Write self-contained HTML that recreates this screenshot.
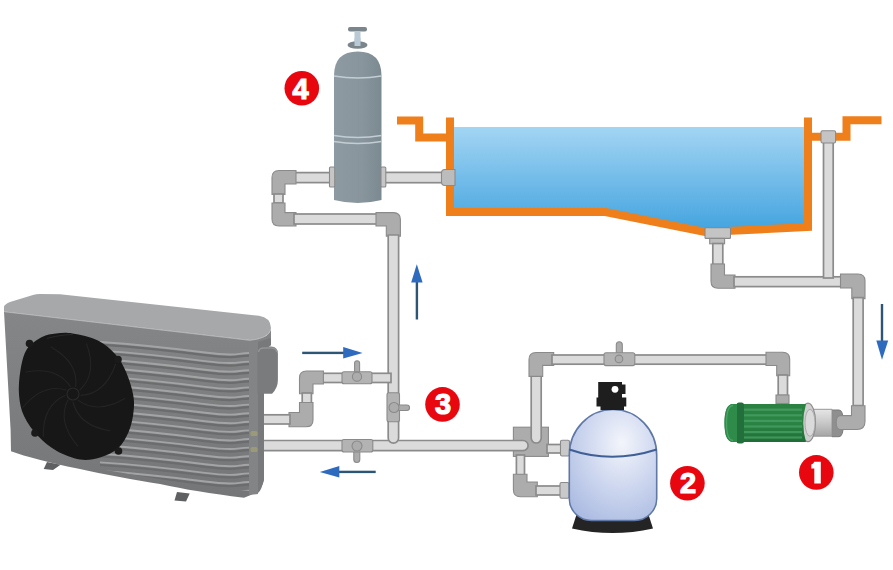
<!DOCTYPE html>
<html><head><meta charset="utf-8">
<style>
html,body{margin:0;padding:0;background:#fff;width:893px;height:570px;overflow:hidden}
svg{display:block}
.p{fill:#dbdbdb;stroke:#8b8b8b;stroke-width:1.7}
.e{fill:#acacac;stroke:#8a8a8a;stroke-width:1.1}
.hl{stroke:#ededed;stroke-width:2.5;fill:none}
.or{fill:none;stroke:#ef7f1a;stroke-width:8;stroke-linejoin:miter}
.num{font-family:"Liberation Sans",sans-serif;font-weight:bold;fill:#fff;stroke:#fff;stroke-width:1.2;font-size:29px;text-anchor:middle}
</style></head>
<body>
<svg width="893" height="570" viewBox="0 0 893 570">
<defs>
<linearGradient id="water" x1="0" y1="0" x2="0" y2="1">
<stop offset="0" stop-color="#a3d5f3"/><stop offset="1" stop-color="#42a3df"/>
</linearGradient>
<linearGradient id="tank4" x1="0" y1="0" x2="1" y2="0">
<stop offset="0" stop-color="#8d9aa1"/><stop offset="0.6" stop-color="#88959c"/><stop offset="1" stop-color="#7b8990"/>
</linearGradient>
<radialGradient id="filt" cx="0.6" cy="0.3" r="0.85">
<stop offset="0" stop-color="#f3f5fb"/><stop offset="0.45" stop-color="#d0d9f0"/><stop offset="1" stop-color="#a7b8e0"/>
</radialGradient>
<linearGradient id="green" x1="0" y1="0" x2="0" y2="1">
<stop offset="0" stop-color="#2a8142"/><stop offset="0.5" stop-color="#2a8443"/><stop offset="1" stop-color="#1f6d36"/>
</linearGradient>
<linearGradient id="motor" x1="0" y1="0" x2="0" y2="1">
<stop offset="0" stop-color="#e6e6e6"/><stop offset="0.5" stop-color="#c8c8c8"/><stop offset="1" stop-color="#a5a5a5"/>
</linearGradient>
<linearGradient id="hpface" x1="0" y1="0" x2="0" y2="1">
<stop offset="0" stop-color="#858687"/><stop offset="1" stop-color="#757678"/>
</linearGradient>
</defs>

<!-- ============ POOL ============ -->
<path d="M452,127 H806 V227 L705,232 L605.5,212 H452 Z" fill="url(#water)"/>
<path class="or" d="M450,117.5 V212 H605.5 L705,232 L808,227 V117.5"/>
<path class="or" d="M397,120.6 H419.2 V137.6 H450"/>
<path class="or" d="M808,136.8 H846.5 V120.3 H881.5"/>

<!-- ============ TANK 4 ============ -->
<rect x="348" y="27" width="19" height="4.5" rx="2" fill="#7a868c"/>
<rect x="354.5" y="31" width="6" height="14" fill="#b9cad6"/>
<ellipse cx="357.5" cy="45" rx="10" ry="3.8" fill="#7a868c"/>
<rect x="354.5" y="38" width="6" height="8" fill="#b9cad6"/>
<path d="M334,76 Q334,51.6 357.8,51.6 Q381.5,51.6 381.5,76 V200 Q357.8,206 334,200 Z" fill="url(#tank4)"/>
<path d="M334,76 Q357.8,80 381.5,76" stroke="#c3ced4" stroke-width="1.3" fill="none"/>
<path d="M334,135.5 Q357.8,139.5 381.5,135.5" stroke="#c3ced4" stroke-width="1.3" fill="none"/>
<path d="M334,141.5 Q357.8,145.5 381.5,141.5" stroke="#c3ced4" stroke-width="1.3" fill="none"/>

<!-- top-left circuit pipes -->
<rect class="p" x="294" y="172.6" width="37" height="10"/>
<rect class="p" x="384" y="172.4" width="59" height="10.3"/>
<rect class="e" x="329.5" y="167" width="5.2" height="20" rx="1" style="fill:#c6c6c6"/>
<rect class="e" x="381" y="167" width="4.8" height="20" rx="1" style="fill:#c6c6c6"/>
<path class="e" d="M455,169.5 H445 Q441.5,169.5 441.5,173 V182 Q441.5,185.5 445,185.5 H455 Z" style="fill:#bcbcbc"/>
<path class="e" d="M296,170.5 H279 Q272,170.5 272,177.5 V194.4 H285 V184 H296 Z"/>
<rect class="p" x="274" y="194" width="9" height="9"/>
<path class="e" d="M272,203 H285 V212.6 H296 V226 H279 Q272,226 272,219 Z"/>
<rect class="p" x="294" y="214" width="84" height="10"/>
<path class="e" d="M376,212.6 H393.4 Q400.4,212.6 400.4,219.6 V236.3 H386.3 V226 H376 Z"/>

<rect class="e" x="513.4" y="427.2" width="35" height="29.2"/>
<path class="p" d="M262,440.5 H523 A5.1,5.1 0 0 1 523,450.7 H262 Z"/>
<path class="p" d="M388.2,235 H398.6 V438 A5.2,5.2 0 0 1 388.2,438 Z"/>
<!-- valve on vertical pipe -->
<rect class="e" x="387" y="392.7" width="12.5" height="29" rx="2" style="fill:#b3b3b3"/>
<rect class="e" x="393" y="405" width="16.5" height="5.5" rx="2.7"/>
<circle class="e" cx="394" cy="407.5" r="5"/>

<!-- HP upper pipe + valve -->
<rect class="p" x="321" y="373.3" width="70" height="9.2"/>
<rect class="e" x="354.6" y="360.8" width="5" height="14" rx="2.5"/>
<rect class="e" x="342" y="371.7" width="30" height="12" rx="2" style="fill:#b3b3b3"/>
<circle class="e" cx="357" cy="376.7" r="4.6"/>
<path class="e" d="M323.4,371 H306.5 Q299.5,371 299.5,378 V393.8 H313 V384 H323.4 Z"/>
<rect class="p" x="302.2" y="393" width="9.2" height="10"/>
<path class="e" d="M299.5,402.5 H313 V420 Q313,426.8 306,426.8 H289 V412.5 H299.5 Z"/>
<rect class="p" x="262" y="414.8" width="28" height="9.2"/>

<!-- lower long pipe + valve -->
<rect class="e" x="353.8" y="444" width="6" height="18.5" rx="3"/>
<rect class="e" x="342" y="439.5" width="30.8" height="12.5" rx="2" style="fill:#b3b3b3"/>
<circle class="e" cx="357" cy="446" r="5"/>

<!-- filter connections -->
<path class="p" d="M531.2,376 H541.2 V438 A5,5 0 0 1 531.2,438 Z"/>
<path class="e" d="M553.7,352.5 H536 Q529,352.5 529,359.5 V376.4 H542.7 V365.4 H553.7 Z"/>
<rect class="p" x="552" y="355" width="216" height="9.2"/>
<rect class="e" x="616.3" y="341.8" width="6" height="14" rx="3"/>
<rect class="e" x="604" y="352.8" width="30.8" height="12.8" rx="2" style="fill:#b3b3b3"/>
<circle class="e" cx="619" cy="358.9" r="3.8"/>
<path class="e" d="M766,352.3 H782.7 Q789.7,352.3 789.7,359.3 V375.8 H776.7 V365.5 H766 Z"/>
<rect class="p" x="778.2" y="375" width="9.3" height="20.5"/>
<rect class="e" x="776" y="395" width="13" height="8.5"/>
<rect class="p" x="547" y="444.5" width="15" height="8.5"/>
<rect class="e" x="560.5" y="440.2" width="9" height="15.8" rx="1.5" style="fill:#c9c9c9"/>
<rect class="p" x="516.4" y="455" width="8.1" height="20"/>
<path class="e" d="M513.4,474.3 H527 V482 H537.3 V496.7 H520.4 Q513.4,496.7 513.4,489.7 Z"/>
<rect class="p" x="536" y="486" width="25" height="9"/>
<rect class="e" x="560" y="482.5" width="9" height="15.8" rx="1.5" style="fill:#c9c9c9"/>

<!-- right circuit -->
<rect class="e" x="705" y="227.6" width="25.5" height="10.8" rx="1" style="fill:#c4c4c4"/>
<rect class="e" x="709.7" y="238.4" width="14.9" height="5.4" style="fill:#bdbdbd"/>
<rect class="p" x="712.8" y="243.5" width="10" height="21"/>
<path class="e" d="M711,264 H724.5 V275 H735 V288.2 H718 Q711,288.2 711,281.2 Z"/>
<rect class="p" x="734" y="276.8" width="107.5" height="9.8"/>
<rect class="p" x="823.5" y="142" width="9.7" height="136"/>
<rect class="e" x="821" y="130.7" width="14.6" height="12.3" rx="1.5" style="fill:#c4c4c4"/>
<path class="e" d="M840.5,274 H858 Q865,274 865,281 V298.6 H851.8 V288 H840.5 Z"/>
<rect class="p" x="853.2" y="297.6" width="9.9" height="108"/>


<!-- ============ PUMP 1 ============ -->
<path d="M832,410 H839 Q843.4,410 843.4,423.3 Q843.4,436.7 839,436.7 H832 Z" fill="#8f8f8f" stroke="#7a7a7a" stroke-width="1"/>
<path class="e" d="M851.5,405.8 H865 V421.5 Q865,429.5 857,429.5 H840 Q836.2,429.5 836.2,422.5 Q836.2,415.6 840,415.6 H851.5 Z"/>
<path d="M808,409.3 H832 V436.2 H808 Z" fill="url(#motor)" stroke="#969696" stroke-width="1"/>
<ellipse cx="808" cy="422.4" rx="7.5" ry="19.3" fill="#cfcfcf" stroke="#8e8e8e" stroke-width="1.2"/>
<ellipse cx="810" cy="422.8" rx="5" ry="13.5" fill="#dadada" stroke="#a0a0a0" stroke-width="0.8"/>
<path d="M733,404 H806 Q800.5,423 806,442 H733 Q724.5,442 724.5,423 Q724.5,404 733,404 Z" fill="url(#green)"/>
<rect x="744" y="408.6" width="58" height="2.2" fill="#4aa266" opacity="0.75"/>
<rect x="744" y="414.2" width="58" height="2.2" fill="#4aa266" opacity="0.75"/>
<rect x="744" y="419.8" width="58" height="2.2" fill="#4aa266" opacity="0.75"/>
<rect x="744" y="425.4" width="58" height="2.2" fill="#4aa266" opacity="0.75"/>
<rect x="744" y="431.0" width="58" height="2.2" fill="#4aa266" opacity="0.75"/>
<rect x="744" y="436.4" width="58" height="2.2" fill="#4aa266" opacity="0.75"/>
<rect x="736.5" y="402.5" width="7.5" height="41" rx="2.5" fill="#236f3b"/>
<path d="M737,404 H733 Q724.5,404 724.5,423 Q724.5,442 733,442 H737 Z" fill="#2f8b4a"/>
<path d="M733,405.5 Q726.5,406 726.5,423 Q726.5,440 733,440.5" fill="none" stroke="#49a566" stroke-width="1.3"/>

<!-- ============ FILTER 2 ============ -->
<path d="M578,510 H647 L653,528.5 Q612.5,537.5 572,528.5 Z" fill="#242424"/>
<path d="M569.3,455 A43.7,45.5 0 0 1 656.7,455 V498.5 A22,22 0 0 1 634.7,520.5 H591.3 A22,22 0 0 1 569.3,498.5 Z" fill="url(#filt)" stroke="#5f78a6" stroke-width="1.6"/>
<path d="M569.3,449.5 Q611.4,464 656.7,449.5" stroke="#3f6096" stroke-width="2" fill="none"/>
<path d="M598.2,382 H622 V384.5 H625.5 V394 H622 V397.5 H626.3 V406.5 H624 V410 H600.5 V406.5 H596.5 V397.5 H598.2 Z" fill="#1e1e1e"/>
<circle cx="615" cy="389.3" r="3.4" fill="#fff"/>

<!-- ============ HEAT PUMP ============ -->
<g id="hp">
<clipPath id="grill"><path d="M100,337 L249,347.5 L249,491 C200,486 150,478 100,469 Z"/></clipPath>
<path d="M4,311.5 L250,340 Q271,338 271,328 L271,345 L264,350 L264,480 Q262,492 244,497.8 C210,493.5 185,489.5 160,484 C110,476 40,462 11,451.3 L10.6,430 Z" fill="url(#hpface)"/>
<g clip-path="url(#grill)" fill="none">
<path d="M100,344.6 C130,346.6 170,350.6 205,355.1 S235,355.6 249,355.6" stroke="#6b6c6d" stroke-width="2.2"/>
<path d="M100,342.0 C130,344.0 170,348.0 205,352.5 S235,353.0 249,353.0" stroke="#a3a4a5" stroke-width="1.9"/>
<path d="M100,353.2 C130,355.2 170,359.2 205,363.7 S235,364.2 249,364.2" stroke="#6b6c6d" stroke-width="2.2"/>
<path d="M100,350.6 C130,352.6 170,356.6 205,361.1 S235,361.6 249,361.6" stroke="#a3a4a5" stroke-width="1.9"/>
<path d="M100,361.8 C130,363.8 170,367.8 205,372.3 S235,372.8 249,372.8" stroke="#6b6c6d" stroke-width="2.2"/>
<path d="M100,359.2 C130,361.2 170,365.2 205,369.7 S235,370.2 249,370.2" stroke="#a3a4a5" stroke-width="1.9"/>
<path d="M100,370.4 C130,372.4 170,376.4 205,380.9 S235,381.4 249,381.4" stroke="#6b6c6d" stroke-width="2.2"/>
<path d="M100,367.8 C130,369.8 170,373.8 205,378.3 S235,378.8 249,378.8" stroke="#a3a4a5" stroke-width="1.9"/>
<path d="M100,379.0 C130,381.0 170,385.0 205,389.5 S235,390.0 249,390.0" stroke="#6b6c6d" stroke-width="2.2"/>
<path d="M100,376.4 C130,378.4 170,382.4 205,386.9 S235,387.4 249,387.4" stroke="#a3a4a5" stroke-width="1.9"/>
<path d="M100,387.6 C130,389.6 170,393.6 205,398.1 S235,398.6 249,398.6" stroke="#6b6c6d" stroke-width="2.2"/>
<path d="M100,385.0 C130,387.0 170,391.0 205,395.5 S235,396.0 249,396.0" stroke="#a3a4a5" stroke-width="1.9"/>
<path d="M100,396.2 C130,398.2 170,402.2 205,406.7 S235,407.2 249,407.2" stroke="#6b6c6d" stroke-width="2.2"/>
<path d="M100,393.6 C130,395.6 170,399.6 205,404.1 S235,404.6 249,404.6" stroke="#a3a4a5" stroke-width="1.9"/>
<path d="M100,404.8 C130,406.8 170,410.8 205,415.3 S235,415.8 249,415.8" stroke="#6b6c6d" stroke-width="2.2"/>
<path d="M100,402.2 C130,404.2 170,408.2 205,412.7 S235,413.2 249,413.2" stroke="#a3a4a5" stroke-width="1.9"/>
<path d="M100,413.4 C130,415.4 170,419.4 205,423.9 S235,424.4 249,424.4" stroke="#6b6c6d" stroke-width="2.2"/>
<path d="M100,410.8 C130,412.8 170,416.8 205,421.3 S235,421.8 249,421.8" stroke="#a3a4a5" stroke-width="1.9"/>
<path d="M100,422.0 C130,424.0 170,428.0 205,432.5 S235,433.0 249,433.0" stroke="#6b6c6d" stroke-width="2.2"/>
<path d="M100,419.4 C130,421.4 170,425.4 205,429.9 S235,430.4 249,430.4" stroke="#a3a4a5" stroke-width="1.9"/>
<path d="M100,430.6 C130,432.6 170,436.6 205,441.1 S235,441.6 249,441.6" stroke="#6b6c6d" stroke-width="2.2"/>
<path d="M100,428.0 C130,430.0 170,434.0 205,438.5 S235,439.0 249,439.0" stroke="#a3a4a5" stroke-width="1.9"/>
<path d="M100,439.2 C130,441.2 170,445.2 205,449.7 S235,450.2 249,450.2" stroke="#6b6c6d" stroke-width="2.2"/>
<path d="M100,436.6 C130,438.6 170,442.6 205,447.1 S235,447.6 249,447.6" stroke="#a3a4a5" stroke-width="1.9"/>
<path d="M100,447.8 C130,449.8 170,453.8 205,458.3 S235,458.8 249,458.8" stroke="#6b6c6d" stroke-width="2.2"/>
<path d="M100,445.2 C130,447.2 170,451.2 205,455.7 S235,456.2 249,456.2" stroke="#a3a4a5" stroke-width="1.9"/>
<path d="M100,456.4 C130,458.4 170,462.4 205,466.9 S235,467.4 249,467.4" stroke="#6b6c6d" stroke-width="2.2"/>
<path d="M100,453.8 C130,455.8 170,459.8 205,464.3 S235,464.8 249,464.8" stroke="#a3a4a5" stroke-width="1.9"/>
<path d="M100,465.0 C130,467.0 170,471.0 205,475.5 S235,476.0 249,476.0" stroke="#6b6c6d" stroke-width="2.2"/>
<path d="M100,462.4 C130,464.4 170,468.4 205,472.9 S235,473.4 249,473.4" stroke="#a3a4a5" stroke-width="1.9"/>
<path d="M100,473.6 C130,475.6 170,479.6 205,484.1 S235,484.6 249,484.6" stroke="#6b6c6d" stroke-width="2.2"/>
<path d="M100,471.0 C130,473.0 170,477.0 205,481.5 S235,482.0 249,482.0" stroke="#a3a4a5" stroke-width="1.9"/>
<path d="M100,482.2 C130,484.2 170,488.2 205,492.7 S235,493.2 249,493.2" stroke="#6b6c6d" stroke-width="2.2"/>
<path d="M100,479.6 C130,481.6 170,485.6 205,490.1 S235,490.6 249,490.6" stroke="#a3a4a5" stroke-width="1.9"/>
</g>
<path d="M4,311.5 L4,306.5 Q5,304 10,302 L33,295 Q36,294 40,294 L60,294.2 L259,315.8 Q270.5,317.5 271,328 Q270,338 250,340 Z" fill="#a6a8aa"/>
<path d="M5,311.8 L250,340.3 Q268,338.5 270.5,330" fill="none" stroke="#b4b6b7" stroke-width="1"/>
<path d="M249,341 L258,342 L258,494 L249,495 Z" fill="#838485"/>
<path d="M258,342 L271,338 L271,345 L264,350 L264,478 Q262,490 258,493 Z" fill="#78797a"/>
<path d="M257.4,354 Q257.4,346.5 264,346.5 H271 Q277.9,346.5 277.9,354 V380 Q277.9,388 272,393.8 H257.4 Z" fill="#7a7b7c"/>
<path d="M258.5,352 Q259,348 264,348 H271 Q276.5,348 276.8,352" fill="none" stroke="#939495" stroke-width="1.6"/>
<path d="M72.6,333.5 C79.6,334.7 90.7,336.9 97.9,340.5 C105.1,344.1 111.3,349.6 116.0,355.0 C120.7,360.4 123.4,365.9 126.3,372.6 C129.2,379.3 132.0,388.4 133.2,395.0 C134.4,401.6 134.2,406.0 133.5,412.0 C132.8,418.0 131.5,425.0 129.0,431.0 C126.5,437.0 123.2,443.6 118.4,448.0 C113.6,452.4 106.4,455.6 100.0,457.5 C93.6,459.4 87.2,460.6 80.0,459.5 C72.8,458.4 63.8,454.9 56.8,451.0 C49.8,447.1 43.5,441.8 38.0,436.0 C32.5,430.2 27.2,422.9 24.0,416.0 C20.8,409.1 19.6,402.4 19.0,394.7 C18.4,387.0 19.2,377.6 20.5,370.0 C21.8,362.4 23.4,354.5 27.0,349.0 C30.6,343.5 37.2,339.6 42.0,337.0 C46.8,334.4 50.9,334.1 56.0,333.5 C61.1,332.9 65.6,332.3 72.6,333.5 Z" fill="#171717"/>
<g fill="none" stroke="#242424" stroke-width="1.1" stroke-linecap="round">
<path d="M80.9,395.4 Q105.0,394.0 115.6,364.2"/>
<path d="M78.1,400.1 Q97.5,414.6 124.8,398.5"/>
<path d="M73.0,402.0 Q78.6,425.5 109.8,430.8"/>
<path d="M67.9,400.1 Q57.0,421.7 77.5,445.8"/>
<path d="M65.1,395.4 Q42.9,404.9 43.2,436.6"/>
<path d="M66.1,390.0 Q42.9,383.1 22.8,407.5"/>
<path d="M70.3,386.5 Q57.0,366.3 25.9,372.0"/>
<path d="M75.7,386.5 Q78.6,362.5 51.0,346.9"/>
<path d="M79.9,390.0 Q97.5,373.4 86.5,343.8"/>
<circle cx="73" cy="394" r="6" stroke="#2a2a2a"/>
</g>
<path d="M47,338.5 C53.5,336.5 63,334.8 72.6,334.5" fill="none" stroke="#2a2a2a" stroke-width="1"/>
<circle cx="29.5" cy="343.5" r="3.8" fill="#1a1a1a"/>
<circle cx="118" cy="359.5" r="3.8" fill="#1a1a1a"/>
<circle cx="35" cy="433" r="3.8" fill="#1a1a1a"/>
<circle cx="118.5" cy="451" r="3.8" fill="#1a1a1a"/>
<path d="M47,462 L60.5,464.7 L53,470 L43.7,469 Z" fill="#5f6061"/>
<rect x="250.5" y="431" width="7" height="5" rx="1.5" fill="#9a9a7a"/>
<rect x="250.5" y="447" width="7" height="5" rx="1.5" fill="#9a9a7a"/>
<path d="M177,492 L189.7,493.5 L186,501.5 L174.5,500.5 Z" fill="#5f6061"/>
</g>

<!-- ============ ARROWS ============ -->
<g fill="#2d5576" stroke="none">
<rect x="415.7" y="281" width="2.4" height="38.5"/>
<rect x="302.2" y="351.7" width="42" height="2.4"/>
<rect x="338" y="470.7" width="37.7" height="2.4"/>
<rect x="880.8" y="304" width="2.4" height="37"/>
</g>
<g fill="#2e6bbf" stroke="none">
<path d="M416.8,264.2 L422.6,282.6 H411.2 Z"/>
<path d="M362.6,352.9 L343.2,347 V358.6 Z"/>
<path d="M319.8,471.9 L339.3,466 V477.6 Z"/>
<path d="M882,359.8 L876.3,340.4 H888.2 Z"/>
</g>

<!-- ============ NUMBERS ============ -->
<g>
<circle cx="301.8" cy="88.2" r="17.3" fill="#e8070f"/>
<text class="num" x="300.5" y="98.5">4</text>
<circle cx="442.5" cy="404.4" r="17.3" fill="#e8070f"/>
<text class="num" x="443" y="413.5">3</text>
<circle cx="687.4" cy="483.2" r="17.3" fill="#e8070f"/>
<text class="num" x="688" y="492.5">2</text>
<circle cx="816.3" cy="472.4" r="17.3" fill="#e8070f"/>
<path d="M814.3,461.8 H820.8 V483.4 H814.3 V468.6 H811.3 V464.6 Q813.6,463.9 814.3,461.8 Z" fill="#fff"/>
</g>
</svg>
</body></html>
